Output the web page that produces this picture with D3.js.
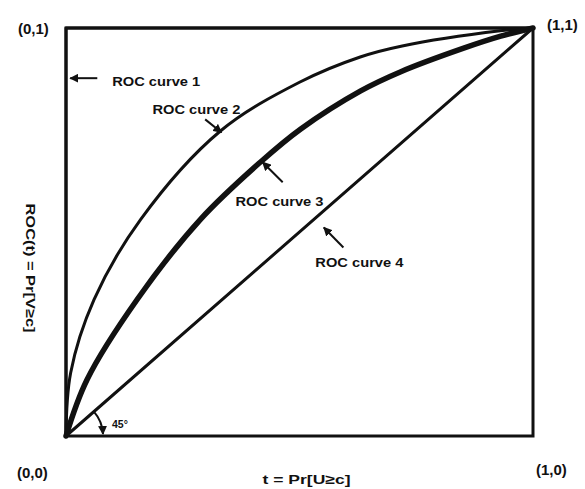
<!DOCTYPE html>
<html>
<head>
<meta charset="utf-8">
<script src="https://cdn.jsdelivr.net/npm/d3@7"></script>
<style>
  body { margin: 0; background: #fff; }
  svg text { font-family: "Liberation Sans", Arial, sans-serif; font-weight: bold; fill: #111; }
</style>
</head>
<body>
<div id="chart"></div>
<script>
// ROC curves (false positive rate t, true positive rate ROC(t))
const curve1X = [0, 0, 1];
const curve1Y = [0, 1, 1];
const curve2X = [0, 0.01, 0.06, 0.16, 0.33, 0.50, 0.63, 0.72, 0.93, 1];
const curve2Y = [0, 0.155, 0.334, 0.531, 0.747, 0.867, 0.929, 0.956, 0.993, 1];
const curve3X = [0, 0.045, 0.152, 0.288, 0.416, 0.502, 0.631, 0.717, 0.85, 0.931, 1];
const curve3Y = [0, 0.138, 0.334, 0.531, 0.671, 0.752, 0.846, 0.893, 0.950, 0.980, 1];
const curve4X = [0, 1];
const curve4Y = [0, 1];

const curveLabels = ['ROC curve 1', 'ROC curve 2', 'ROC curve 3', 'ROC curve 4'];
const labelX = [0.099, 0.185, 0.363, 0.534];
const labelY = [0.857, 0.789, 0.563, 0.413];
const arrowFromX = [0.067, 0.298, 0.464, 0.594];
const arrowFromY = [0.877, 0.776, 0.622, 0.462];
const arrowToX = [0.009, 0.333, 0.421, 0.552];
const arrowToY = [0.877, 0.744, 0.671, 0.511];

const cornerLabels = ['(0,1)', '(1,1)', '(0,0)', '(1,0)'];
const xTitle = 't = Pr[U\u2265c]';
const yTitle = 'ROC(t) = Pr[V\u2265c]';

const width = 585, height = 489;
const margin = {top: 28, right: 52, bottom: 53, left: 66};
const w = width - margin.left - margin.right;
const h = height - margin.top - margin.bottom;

const x = d3.scaleLinear().domain([0, 1]).range([0, w]);
const y = d3.scaleLinear().domain([0, 1]).range([h, 0]);

const svg = d3.select('#chart').append('svg')
  .attr('width', width)
  .attr('height', height);

svg.append('defs').append('marker')
  .attr('id', 'head')
  .attr('viewBox', '0 0 10 10')
  .attr('refX', 9).attr('refY', 5)
  .attr('markerWidth', 4.5).attr('markerHeight', 4.5)
  .attr('orient', 'auto')
  .append('path')
  .attr('d', 'M0,0 L10,5 L0,10 z')
  .attr('fill', '#111');

const g = svg.append('g')
  .attr('transform', `translate(${margin.left},${margin.top})`);

// frame
g.append('rect')
  .attr('x', 0).attr('y', 0)
  .attr('width', w).attr('height', h)
  .attr('fill', 'none')
  .attr('stroke', '#111')
  .attr('stroke-width', 3);

const zip = (xs, ys) => xs.map((d, i) => [d, ys[i]]);
const line = d3.line()
  .x(d => x(d[0]))
  .y(d => y(d[1]));
const smooth = d3.line()
  .x(d => x(d[0]))
  .y(d => y(d[1]))
  .curve(d3.curveCatmullRom.alpha(0.5));

const curves = [
  {pts: zip(curve1X, curve1Y), gen: line, sw: 3},
  {pts: zip(curve2X, curve2Y), gen: smooth, sw: 3},
  {pts: zip(curve3X, curve3Y), gen: smooth, sw: 5.5},
  {pts: zip(curve4X, curve4Y), gen: line, sw: 3}
];

curves.forEach(c => {
  g.append('path')
    .datum(c.pts)
    .attr('d', c.gen)
    .attr('fill', 'none')
    .attr('stroke', '#111')
    .attr('stroke-width', c.sw)
    .attr('stroke-linejoin', 'round')
    .attr('stroke-linecap', 'round');
});

// labels + arrows
curveLabels.forEach((lab, i) => {
  g.append('text')
    .attr('x', x(labelX[i]))
    .attr('y', y(labelY[i]))
    .attr('font-size', 13.5)
    .attr('textLength', 88)
    .attr('lengthAdjust', 'spacingAndGlyphs')
    .text(lab);
  g.append('line')
    .attr('x1', x(arrowFromX[i])).attr('y1', y(arrowFromY[i]))
    .attr('x2', x(arrowToX[i])).attr('y2', y(arrowToY[i]))
    .attr('stroke', '#111')
    .attr('stroke-width', 2)
    .attr('marker-end', 'url(#head)');
});

// 45 degree arc
const ang = Math.atan2(h, w);
const r = 37;
g.append('path')
  .attr('d', `M${r * Math.cos(ang)},${h - r * Math.sin(ang)} A${r},${r} 0 0 1 ${r},${h - 2}`)
  .attr('fill', 'none')
  .attr('stroke', '#111')
  .attr('stroke-width', 2)
  .attr('marker-end', 'url(#head)');
g.append('text')
  .attr('x', r + 9).attr('y', h - 8)
  .attr('font-size', 10.5)
  .text('45\u00b0');

// corner labels
const corners = [[0, 1], [1, 1], [0, 0], [1, 0]];
const cornerPos = [[-48, 6], [14, 2], [-49, 42], [3, 39]];
corners.forEach((c, i) => {
  g.append('text')
    .attr('x', x(c[0]) + cornerPos[i][0])
    .attr('y', y(c[1]) + cornerPos[i][1])
    .attr('font-size', 15)
    .text(cornerLabels[i]);
});

// axis titles
g.append('text')
  .attr('x', w / 2 + 7)
  .attr('y', h + 48)
  .attr('text-anchor', 'middle')
  .attr('font-size', 13.5)
  .attr('textLength', 88)
  .attr('lengthAdjust', 'spacingAndGlyphs')
  .text(xTitle);

g.append('text')
  .attr('transform', `translate(${-40},${h / 2 + 36}) rotate(90)`)
  .attr('text-anchor', 'middle')
  .attr('font-size', 13.5)
  .attr('textLength', 129)
  .attr('lengthAdjust', 'spacingAndGlyphs')
  .text(yTitle);
</script>
</body>
</html>
